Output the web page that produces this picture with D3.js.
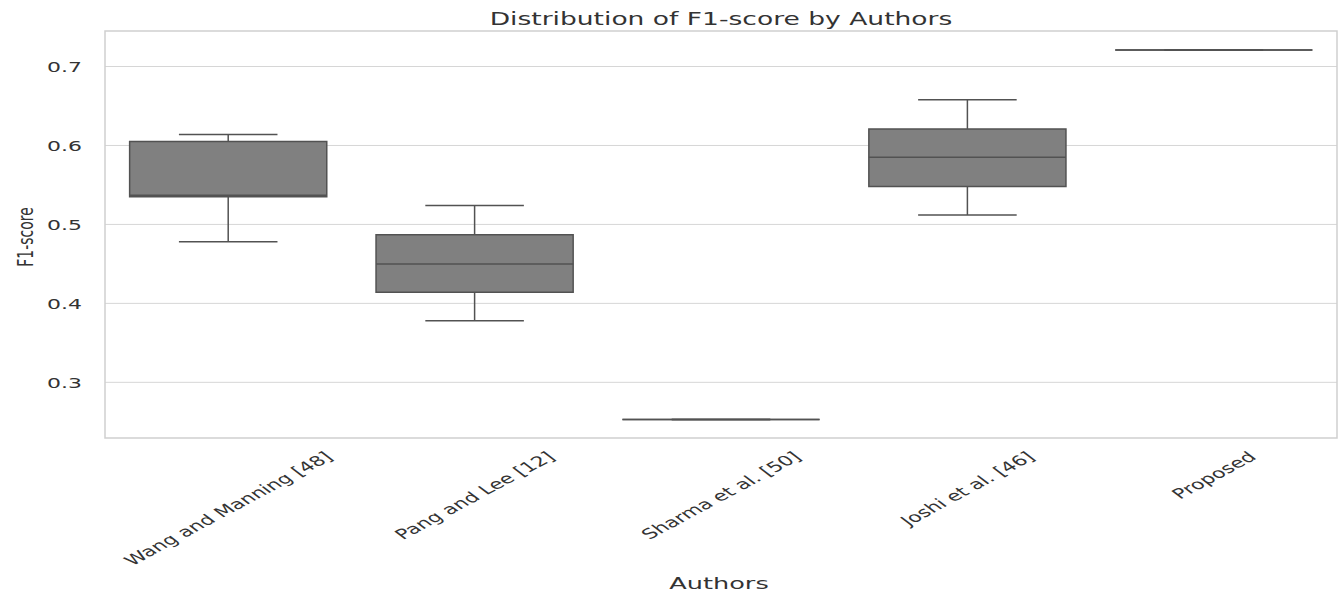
<!DOCTYPE html>
<html>
<head>
<meta charset="utf-8">
<script src="https://cdn.jsdelivr.net/npm/d3@7"></script>
<style>
  body { margin: 0; background: #fff; }
  text { font-family: "DejaVu Sans", sans-serif; fill: #333; }
</style>
</head>
<body>
<svg id="chart" width="1340" height="595"></svg>
<script>
// five-number summaries
var authors = ["Wang and Manning [48]", "Pang and Lee [12]", "Sharma et al. [50]", "Joshi et al. [46]", "Proposed"];
var whiskerLow = [0.478, 0.378, 0.253, 0.512, 0.721];
var q1 = [0.535, 0.414, 0.253, 0.548, 0.721];
var median = [0.537, 0.450, 0.253, 0.585, 0.721];
var q3 = [0.605, 0.487, 0.253, 0.621, 0.721];
var whiskerHigh = [0.614, 0.524, 0.253, 0.658, 0.721];
var yTicks = [0.3, 0.4, 0.5, 0.6, 0.7];

var margin = {top: 31, right: 3, bottom: 157, left: 105},
    W = 1340, H = 595,
    width = W - margin.left - margin.right,
    height = H - margin.top - margin.bottom,
    sx = 1.57,          // the picture is stretched sideways
    angle = 40,
    lineColor = "#525252";

var svg = d3.select("#chart"),
    g = svg.append("g").attr("transform", `translate(${margin.left},${margin.top})`);

var x = d3.scaleBand().domain(authors).range([0, width]).padding(0),
    y = d3.scaleLinear().domain([0.2295, 0.745]).range([height, 0]);

var boxes = authors.map((a, i) => ({
    name: a, lo: whiskerLow[i], q1: q1[i], med: median[i], q3: q3[i], hi: whiskerHigh[i]
}));

// grid
g.append("g").selectAll("line").data(yTicks).enter().append("line")
    .attr("x1", 0).attr("x2", width)
    .attr("y1", d => y(d)).attr("y2", d => y(d))
    .attr("stroke", "#d6d6d6").attr("stroke-width", 1);

// frame
g.append("rect").attr("width", width).attr("height", height)
    .attr("fill", "none").attr("stroke", "#cfcfcf").attr("stroke-width", 1.5);

// y axis labels
var yAxis = g.append("g").call(d3.axisLeft(y).tickValues(yTicks).tickSize(0).tickFormat(d3.format(".1f")));
yAxis.select(".domain").remove();
yAxis.selectAll("text")
    .attr("x", -23 / sx).attr("dy", "0.36em")
    .attr("transform", `scale(${sx},1)`)
    .style("font-size", "14px").style("fill", "#333");

// x axis labels, rotated then stretched
var xAxis = g.append("g").attr("transform", `translate(0,${height})`)
    .call(d3.axisBottom(x).tickSize(0));
xAxis.select(".domain").remove();
xAxis.selectAll("text")
    .style("font-size", "14px").style("fill", "#333")
    .attr("y", 0).attr("dy", "0.35em").attr("text-anchor", "middle")
    .attr("transform", function() {
        var L = this.getComputedTextLength(),
            r = angle * Math.PI / 180,
            h0 = L * Math.sin(r) + 12 * Math.cos(r);
        return `translate(0,${12 + h0 / 2}) scale(${sx},1) rotate(${-angle})`;
    });

// boxes
var bw = x.bandwidth() * 0.8;
var box = g.append("g").selectAll("g").data(boxes).enter().append("g")
    .attr("transform", d => `translate(${x(d.name) + x.bandwidth() / 2},0)`);

box.append("line").attr("class", "whisker")
    .attr("x1", 0).attr("x2", 0).attr("y1", d => y(d.hi)).attr("y2", d => y(d.q3))
    .attr("stroke", lineColor).attr("stroke-width", 1.5);
box.append("line").attr("class", "whisker")
    .attr("x1", 0).attr("x2", 0).attr("y1", d => y(d.q1)).attr("y2", d => y(d.lo))
    .attr("stroke", lineColor).attr("stroke-width", 1.5);

box.append("path")
    .attr("d", d => `M${-bw / 2},${y(d.q3)}H${bw / 2}V${y(d.q1)}H${-bw / 2}Z`)
    .attr("fill", "#808080").attr("stroke", lineColor).attr("stroke-width", 1.5);

box.append("line")
    .attr("x1", -bw / 2).attr("x2", bw / 2).attr("y1", d => y(d.med)).attr("y2", d => y(d.med))
    .attr("stroke", lineColor).attr("stroke-width", 1.5);

[d => d.hi, d => d.lo].forEach(acc => {
    box.append("line")
        .attr("x1", -bw / 4).attr("x2", bw / 4).attr("y1", d => y(acc(d))).attr("y2", d => y(acc(d)))
        .attr("stroke", lineColor).attr("stroke-width", 1.5);
});

// titles
svg.append("text").attr("transform", `translate(${margin.left + width / 2},25) scale(${sx},1)`)
    .attr("text-anchor", "middle").style("font-size", "16.9px")
    .text("Distribution of F1-score by Authors");

svg.append("text").attr("transform", `translate(719,589) scale(${sx},1)`)
    .attr("text-anchor", "middle").style("font-size", "16.3px")
    .text("Authors");

svg.append("text").attr("transform", `translate(33,237) scale(${sx},1) rotate(-90)`)
    .attr("text-anchor", "middle").style("font-size", "14px")
    .text("F1-score");
</script>
</body>
</html>
